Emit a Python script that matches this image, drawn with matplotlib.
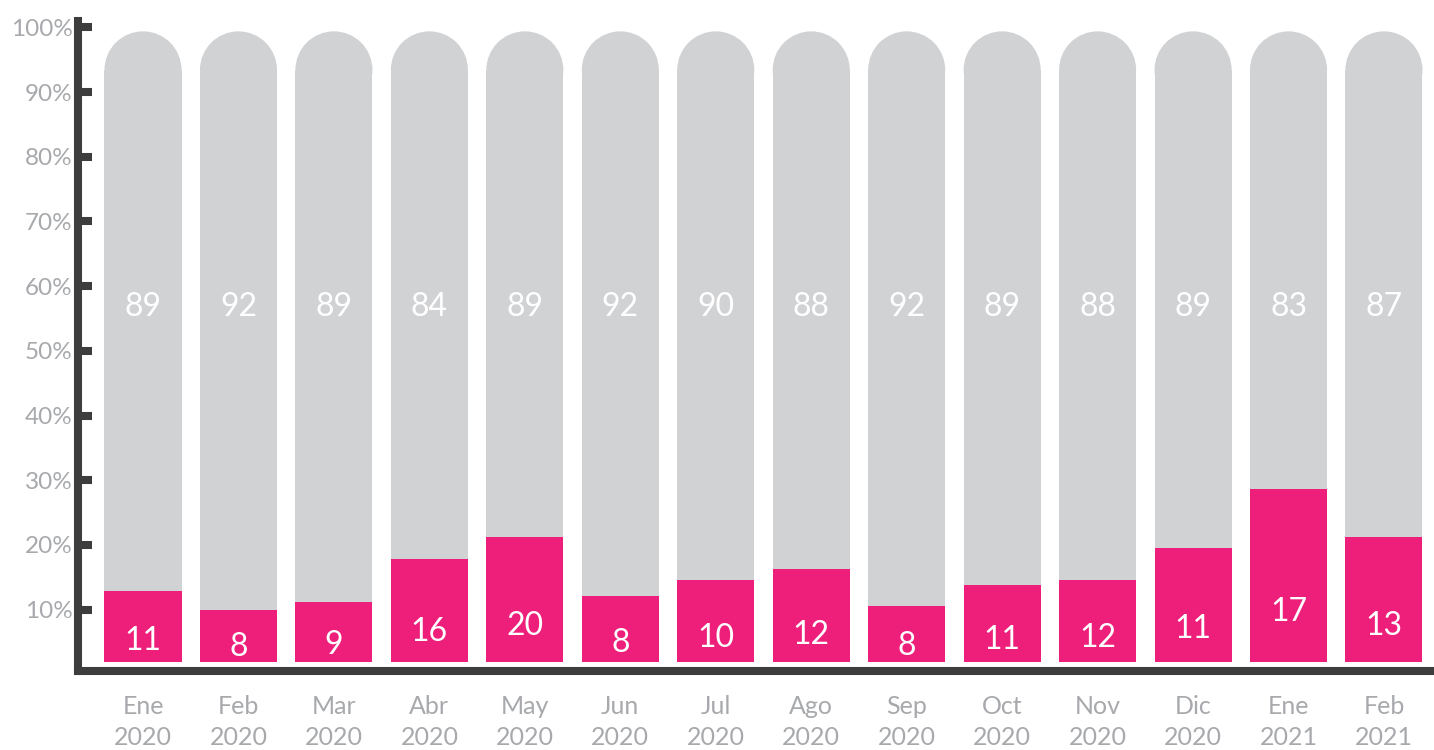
import numpy as np
import matplotlib.pyplot as plt
from matplotlib.patches import Ellipse

# data
months = ['Ene\n2020', 'Feb\n2020', 'Mar\n2020', 'Abr\n2020', 'May\n2020', 'Jun\n2020',
          'Jul\n2020', 'Ago\n2020', 'Sep\n2020', 'Oct\n2020', 'Nov\n2020', 'Dic\n2020',
          'Ene\n2021', 'Feb\n2021']
pink_height = [12.9, 9.9, 11.2, 17.8, 21.2, 12.1, 14.6, 16.3, 10.5, 13.8, 14.6, 19.5, 28.6, 21.2]
pink_label = [11, 8, 9, 16, 20, 8, 10, 12, 8, 11, 12, 11, 17, 13]
grey_label = [89, 92, 89, 84, 89, 92, 90, 88, 92, 89, 88, 89, 83, 87]
yticks = [10, 20, 30, 40, 50, 60, 70, 80, 90, 100]

base = 1.9
grey_top = 99.4

PINK = '#ee1f7b'
GREY = '#d1d2d4'
TXT = '#a7a9ac'
AXC = '#3d3d3d'

plt.rcParams['font.family'] = ['Lato', 'DejaVu Sans']

W, H = 14.34, 7.5
fig = plt.figure(figsize=(W, H), dpi=100)
left, bottom, right, top = 78 / 1434, 79 / 750, 1.0, 1 - 21 / 750
ax = fig.add_axes([left, bottom, right - left, top - bottom])

xlim = (-0.681, 13.524)
ylim = (0.5, 101)
ax.set_xlim(*xlim)
ax.set_ylim(*ylim)

x = np.arange(len(months))
width = 0.807
pink_height = np.array(pink_height)

# pixels per data unit, so the caps come out round
px_x = (right - left) * W * 100 / (xlim[1] - xlim[0])
px_y = (top - bottom) * H * 100 / (ylim[1] - ylim[0])
cap_h = width * px_x / px_y

ax.bar(x, grey_top - cap_h / 2 - pink_height, width, bottom=pink_height, color=GREY, zorder=1)
for xi in x:
    ax.add_patch(Ellipse((xi, grey_top - cap_h / 2), width, cap_h, color=GREY, zorder=1, lw=0))
ax.bar(x, pink_height - base, width, bottom=base, color=PINK, zorder=2)

for xi, h, pl, gl in zip(x, pink_height, pink_label, grey_label):
    ax.text(xi, base + 0.29 * (h - base), str(pl), ha='center', va='center',
            color='white', fontsize=23, zorder=3)
    ax.text(xi, 56.8, str(gl), ha='center', va='center', color='white', fontsize=23, zorder=3)

ax.set_xticks(x)
ax.set_xticklabels(months, color=TXT, fontsize=18, linespacing=1.45)
ax.tick_params(axis='x', length=0, pad=17)

ax.set_yticks(yticks)
ax.set_yticklabels([f'{t}%' for t in yticks], color=TXT, fontsize=17.5)
ax.tick_params(axis='y', direction='in', length=10, width=5.8, color=AXC, pad=4)

for s in ['top', 'right']:
    ax.spines[s].set_visible(False)
for s in ['left', 'bottom']:
    ax.spines[s].set_linewidth(5.8)
    ax.spines[s].set_color(AXC)
    ax.spines[s].set_capstyle('projecting')

fig.savefig('out.png', dpi=100)
